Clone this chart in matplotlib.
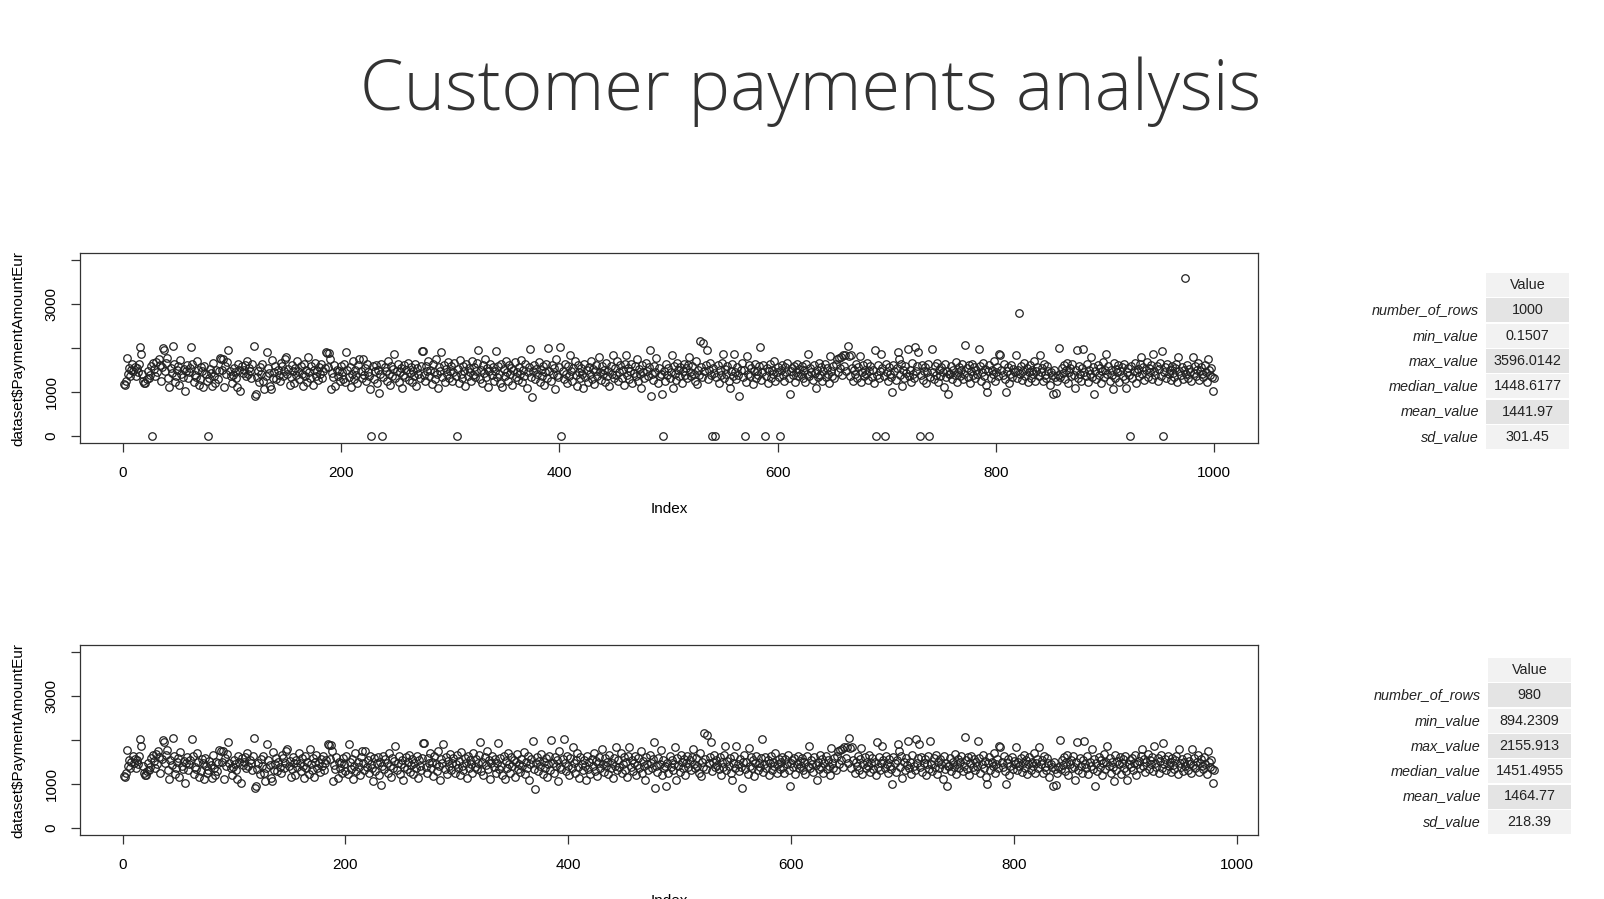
# Customer payments analysis - two R-style index plots with summary tables
import matplotlib
matplotlib.use("Agg")
import matplotlib.pyplot as plt
from matplotlib.patches import Rectangle

# Text labels
TITLE = "Customer payments analysis"
Y_LABEL = "dataset$PaymentAmountEur"
X_LABEL = "Index"

# Payment amounts in EUR, in row order
payments = [
    1180, 1150, 1250, 1770, 1410, 1545, 1360, 1495, 1635, 1470, 1570, 1370, 1535, 1445, 1645, 2030, 1860, 1410, 1260, 1195,
    1210, 1295, 1485, 1320, 1395, 1585, 0.1507, 1660, 1520, 1360, 1685, 1445, 1760, 1620, 1245, 1560, 2000, 1960, 1485, 1660,
    1770, 1320, 1110, 1535, 1435, 2050, 1635, 1220, 1370, 1495, 1585, 1160, 1735, 1420, 1335, 1520, 1030, 1470, 1610, 1310,
    1445, 1545, 2030, 1645, 1235, 1385, 1345, 1695, 1495, 1170, 1285, 1560, 1470, 1110, 1585, 1410, 1245, 2.4, 1320, 1520,
    1435, 1130, 1660, 1360, 1195, 1510, 1295, 1485, 1770, 1760, 1500, 1750, 1120, 1585, 1410, 1685, 1950, 1470, 1370, 1195,
    1385, 1545, 1460, 1320, 1110, 1645, 1495, 1030, 1585, 1435, 1510, 1610, 1360, 1695, 1410, 1545, 1470, 1310, 1635, 2050,
    915, 950, 1335, 1485, 1220, 1560, 1410, 1635, 1260, 1070, 1370, 1900, 1535, 1435, 1145, 1070, 1735, 1320, 1460, 1595,
    1295, 1510, 1395, 1245, 1660, 1585, 1360, 1485, 1760, 1800, 1410, 1520, 1150, 1335, 1620, 1470, 1195, 1545, 1385, 1695,
    1485, 1285, 1585, 1420, 1145, 1645, 1370, 1510, 1220, 1800, 1445, 1310, 1585, 1170, 1495, 1660, 1360, 1470, 1270, 1570,
    1410, 1635, 1320, 1485, 1535, 1900, 1880, 1560, 1890, 1760, 1070, 1435, 1335, 1610, 1145, 1510, 1370, 1470, 1260, 1585,
    1445, 1295, 1645, 1235, 1920, 1495, 1345, 1560, 1110, 1420, 1695, 1285, 1510, 1395, 1210, 1610, 1750, 1470, 1320, 1745,
    1385, 1535, 1245, 1645, 1445, 1360, 1060, 3.1, 1585, 1295, 1470, 1620, 1195, 1510, 975, 1410, 1645, 1.8, 1345, 1560,
    1485, 1260, 1695, 1410, 1160, 1585, 1370, 1520, 1860, 1310, 1470, 1645, 1235, 1445, 1545, 1095, 1385, 1610, 1335, 1495,
    1660, 1270, 1435, 1570, 1220, 1485, 1370, 1635, 1130, 1535, 1420, 1320, 1595, 1930, 1940, 1395, 1245, 1585, 1485, 1695,
    1360, 1510, 1185, 1645, 1445, 1295, 1745, 1410, 1080, 1570, 1470, 1920, 1335, 1620, 1235, 1520, 1420, 1685, 1320, 1485,
    1595, 1260, 1460, 1660, 1370, 4.6, 1520, 1195, 1735, 1410, 1310, 1585, 1470, 1130, 1635, 1360, 1545, 1445, 1245, 1710,
    1395, 1560, 1335, 1485, 1660, 1950, 1295, 1510, 1210, 1620, 1435, 1760, 1345, 1535, 1110, 1470, 1645, 1385, 1570, 1245,
    1485, 1930, 1335, 1595, 1420, 1195, 1635, 1120, 1520, 1370, 1710, 1445, 1260, 1610, 1410, 1545, 1170, 1495, 1685, 1345,
    1460, 1270, 1570, 1410, 1735, 1235, 1510, 1370, 1645, 1095, 1445, 1560, 1980, 1335, 894.2309, 1470, 1620, 1295, 1520, 1410,
    1685, 1235, 1495, 1360, 1585, 1160, 1445, 1645, 1310, 2000, 1470, 1260, 1610, 1420, 1535, 1070, 1745, 1385, 1335, 1570,
    2020, 0.9, 1485, 1295, 1645, 1410, 1195, 1585, 1370, 1840, 1470, 1260, 1545, 1695, 1395, 1130, 1610, 1445, 1310, 1535,
    1420, 1080, 1635, 1345, 1495, 1235, 1570, 1410, 1710, 1295, 1520, 1185, 1470, 1620, 1360, 1800, 1445, 1270, 1585, 1410,
    1510, 1220, 1660, 1370, 1485, 1130, 1595, 1420, 1840, 1320, 1535, 1395, 1695, 1245, 1460, 1610, 1310, 1495, 1170, 1645,
    1840, 1385, 1545, 1285, 1470, 1635, 1195, 1435, 1585, 1360, 1745, 1260, 1520, 1410, 1095, 1610, 1460, 1320, 1660, 1485,
    1370, 1560, 1950, 910, 1420, 1270, 1595, 1460, 1770, 1195, 1535, 1360, 1400, 950, 2.7, 1485, 1245, 1635, 1395, 1545,
    1320, 1460, 1840, 1080, 1595, 1410, 1270, 1670, 1495, 1360, 1560, 1210, 1470, 1645, 1385, 1535, 1310, 1610, 1800, 1445,
    1360, 1585, 1410, 1245, 1695, 1180, 1510, 1395, 2155.913, 1560, 1335, 2120, 1470, 1620, 1950, 1295, 1495, 1660, 1385, 5.2,
    1545, 1435, 0.6, 1345, 1610, 1210, 1495, 1395, 1660, 1870, 1320, 1520, 1420, 1585, 1260, 1090, 1470, 1635, 1360, 1870,
    1445, 1285, 1560, 1395, 915, 1495, 1670, 1335, 1510, 3.4, 1220, 1820, 1420, 1610, 1370, 1535, 1185, 1470, 1645, 1320,
    1485, 1385, 1585, 2020, 1270, 1445, 1620, 6.2, 1360, 1535, 1210, 1470, 1645, 1310, 1510, 1410, 1695, 1245, 1460, 1570,
    1345, 1.2, 1495, 1610, 1395, 1260, 1560, 1460, 1660, 1320, 960, 1485, 1535, 1385, 1595, 1235, 1445, 1635, 1360, 1520,
    1420, 1585, 1310, 1495, 1220, 1645, 1410, 1870, 1360, 1545, 1460, 1270, 1610, 1435, 1090, 1510, 1345, 1660, 1395, 1570,
    1245, 1470, 1635, 1335, 1535, 1420, 1195, 1820, 1485, 1370, 1585, 1310, 1645, 1750, 1445, 1780, 1535, 1800, 1385, 1830,
    1585, 1850, 1470, 2050, 1810, 1360, 1840, 1545, 1260, 1495, 1410, 1645, 1320, 1560, 1820, 1220, 1460, 1610, 1370, 1510,
    1420, 1660, 1270, 1485, 1585, 1345, 1510, 1195, 1950, 2.9, 1395, 1620, 1310, 1470, 1870, 1535, 1360, 4.1, 1645, 1445,
    1245, 1560, 1410, 1335, 1000, 1610, 1470, 1270, 1535, 1900, 1750, 1385, 1645, 1130, 1495, 1320, 1585, 1435, 1980, 1360,
    1510, 1220, 1670, 1410, 1320, 2020, 1470, 1585, 1920, 0.8, 1385, 1620, 1270, 1485, 1560, 1195, 1445, 1635, 3.7, 1345,
    1980, 1460, 1295, 1585, 1395, 1660, 1235, 1510, 1360, 1560, 1445, 1120, 1645, 1335, 1485, 950, 1400, 1410, 1595, 1295,
    1510, 1395, 1685, 1220, 1460, 1570, 1360, 1495, 1635, 1285, 1420, 2070, 1535, 1335, 1610, 1195, 1470, 1645, 1385, 1560,
    1310, 1495, 1410, 1980, 1585, 1260, 1445, 1660, 1360, 1520, 1170, 1000, 1470, 1620, 1320, 1510, 1410, 1695, 1245, 1460,
    1570, 1360, 1860, 1850, 1495, 1395, 1635, 1285, 1000, 1470, 1560, 1210, 1420, 1610, 1345, 1520, 1445, 1830, 1310, 1495,
    2803, 1410, 1585, 1270, 1485, 1660, 1370, 1545, 1220, 1460, 1620, 1320, 1510, 1420, 1710, 1260, 1470, 1560, 1360, 1830,
    1445, 1535, 1245, 1645, 1385, 1320, 1585, 1470, 1170, 1450, 1380, 955, 1500, 1350, 985, 1245, 1385, 2010, 1335, 1535,
    1435, 1610, 1285, 1495, 1660, 1195, 1460, 1545, 1360, 1635, 1395, 1090, 1510, 1950, 1320, 1595, 1420, 1260, 1535, 1980,
    1460, 1370, 1645, 1235, 1510, 1410, 1800, 1335, 1570, 950, 1470, 1295, 1620, 1395, 1535, 1195, 1485, 1685, 1345, 1510,
    1860, 1420, 1585, 1260, 1495, 1385, 1070, 1660, 1320, 1520, 1445, 1610, 1235, 1470, 1560, 1370, 1645, 1285, 1080, 1460,
    1545, 1385, 0.3, 1595, 1310, 1485, 1660, 1210, 1445, 1520, 1360, 1635, 1800, 1410, 1570, 1270, 1495, 1685, 1345, 1535,
    1445, 1610, 1295, 1860, 1470, 1385, 1585, 1245, 1520, 1660, 1360, 1930, 7.5, 1460, 1560, 1320, 1635, 1410, 1495, 1270,
    1595, 1435, 1335, 1535, 1645, 1235, 1800, 1470, 1385, 1570, 1295, 1495, 3596.0142, 1410, 1610, 1320, 1520, 1460, 1245, 1800,
    1435, 1585, 1360, 1510, 1660, 1270, 1470, 1560, 1410, 1335, 1620, 1445, 1235, 1750, 1510, 1385, 1545, 1345, 1020, 1325,
]

# The lower plot keeps only the plausible payments (zeros and extremes dropped)
LOW_CUT = 500
HIGH_CUT = 2500
cleaned = [v for v in payments if LOW_CUT < v < HIGH_CUT]

# Summary tables shown to the right of each plot
STAT_NAMES = ["number_of_rows", "min_value", "max_value", "median_value", "mean_value", "sd_value"]
RAW_STATS = ["1000", "0.1507", "3596.0142", "1448.6177", "1441.97", "301.45"]
CLEAN_STATS = ["980", "894.2309", "2155.913", "1451.4955", "1464.77", "218.39"]

# Axis ticks
Y_TICKS = [0, 1000, 2000, 3000, 4000]
Y_TICK_LABELS = ["0", "1000", "", "3000", ""]
X_TICKS = [0, 200, 400, 600, 800, 1000]

FONT = "Liberation Sans"
FIG_W, FIG_H = 1604, 899

fig = plt.figure(figsize=(FIG_W / 100, FIG_H / 100), dpi=100)


# *******************************************
# A function to draw one R-style index plot
# *******************************************
def plotPanel(rect, values):
    ax = fig.add_axes(rect)
    index = list(range(1, len(values) + 1))
    ax.plot(index, values, linestyle="none", marker="o", markersize=5.4,
            markerfacecolor="none", markeredgecolor="#222222", markeredgewidth=0.9)
    # R pads both ranges by 4 percent
    pad = 0.04 * (len(values) - 1)
    ax.set_xlim(1 - pad, len(values) + pad)
    ax.set_ylim(-0.04 * 4000, 4000 * 1.04)
    ax.set_xticks(X_TICKS)
    ax.set_xticklabels([str(t) for t in X_TICKS], fontsize=11, family=FONT)
    ax.set_yticks(Y_TICKS)
    ax.set_yticklabels(Y_TICK_LABELS, fontsize=11, family=FONT, rotation=90, va="center")
    ax.tick_params(direction="out", length=6.5, width=0.9, color="#333333")
    ax.tick_params(axis="x", pad=10)
    ax.tick_params(axis="y", pad=9)
    for spine in ax.spines.values():
        spine.set_color("#333333")
        spine.set_linewidth(0.9)
    ax.set_xlabel(X_LABEL, fontsize=11, family=FONT, labelpad=16)
    ax.set_ylabel(Y_LABEL, fontsize=11, family=FONT, labelpad=14)
    return ax


plotPanel([80 / FIG_W, 1 - 443 / FIG_H, 1178 / FIG_W, 190 / FIG_H], payments)
plotPanel([80 / FIG_W, 1 - 835 / FIG_H, 1178 / FIG_W, 190 / FIG_H], cleaned)

# Overlay in pixel units for the title and the tables
over = fig.add_axes([0, 0, 1, 1])
over.set_xlim(0, FIG_W)
over.set_ylim(FIG_H, 0)
over.axis("off")

over.text(811, 110, TITLE, ha="center", va="baseline", fontsize=50.5,
          family="Open Sans", fontweight="light", color="#333333")


# *******************************************
# A function to draw one summary table
# *******************************************
def drawTable(left, top, values):
    cell_w = 83
    row_h = 24
    pitch = 25.3
    names = [""] + STAT_NAMES
    cells = ["Value"] + values
    for i in range(len(cells)):
        y = top + i * pitch
        shade = "#f2f2f2" if i % 2 == 0 else "#e4e4e4"
        over.add_patch(Rectangle((left, y), cell_w, row_h, facecolor=shade, linewidth=0))
        over.text(left + cell_w / 2, y + row_h / 2, cells[i], ha="center", va="center",
                  fontsize=10.4, family=FONT, color="#222222")
        over.text(left - 7, y + row_h / 2, names[i], ha="right", va="center",
                  fontsize=10.4, family=FONT, style="italic", color="#222222")


drawTable(1486, 273, RAW_STATS)
drawTable(1488, 658, CLEAN_STATS)

fig.savefig("out.png", dpi=100)
